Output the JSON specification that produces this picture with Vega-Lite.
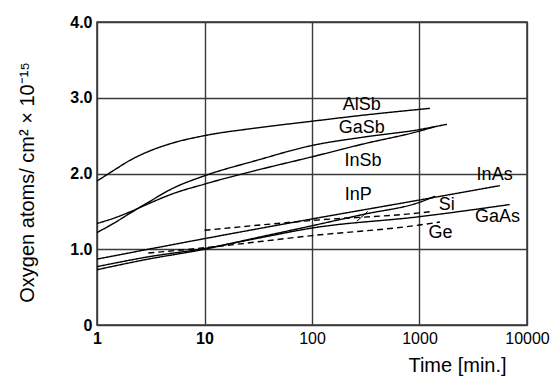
{
  "$schema": "https://vega.github.io/schema/vega-lite/v6.json",
  "width": 430,
  "height": 303,
  "autosize": "none",
  "padding": {"left": 97, "top": 22, "right": 27, "bottom": 52},
  "background": "white",
  "config": {
    "font": "Liberation Sans",
    "view": {"stroke": "#333333", "strokeWidth": 1.5}
  },
  "datasets": {
    "curves": [
      {"material": "AlSb", "t": 1, "o": 1.90},
      {"material": "AlSb", "t": 1.5, "o": 2.06},
      {"material": "AlSb", "t": 2, "o": 2.17},
      {"material": "AlSb", "t": 3, "o": 2.29},
      {"material": "AlSb", "t": 5, "o": 2.40},
      {"material": "AlSb", "t": 10, "o": 2.50},
      {"material": "AlSb", "t": 30, "o": 2.60},
      {"material": "AlSb", "t": 100, "o": 2.69},
      {"material": "AlSb", "t": 300, "o": 2.77},
      {"material": "AlSb", "t": 1250, "o": 2.86},
      {"material": "GaSb", "t": 1, "o": 1.22},
      {"material": "GaSb", "t": 1.5, "o": 1.36},
      {"material": "GaSb", "t": 2, "o": 1.47},
      {"material": "GaSb", "t": 3, "o": 1.62},
      {"material": "GaSb", "t": 5, "o": 1.80},
      {"material": "GaSb", "t": 10, "o": 1.97},
      {"material": "GaSb", "t": 30, "o": 2.17},
      {"material": "GaSb", "t": 100, "o": 2.37},
      {"material": "GaSb", "t": 300, "o": 2.48},
      {"material": "GaSb", "t": 1000, "o": 2.58},
      {"material": "GaSb", "t": 1800, "o": 2.65},
      {"material": "InSb", "t": 1, "o": 1.34},
      {"material": "InSb", "t": 1.5, "o": 1.42},
      {"material": "InSb", "t": 2, "o": 1.49},
      {"material": "InSb", "t": 3, "o": 1.60},
      {"material": "InSb", "t": 5, "o": 1.73},
      {"material": "InSb", "t": 10, "o": 1.86},
      {"material": "InSb", "t": 30, "o": 2.04},
      {"material": "InSb", "t": 100, "o": 2.22},
      {"material": "InSb", "t": 300, "o": 2.39},
      {"material": "InSb", "t": 1000, "o": 2.56},
      {"material": "InSb", "t": 1400, "o": 2.62},
      {"material": "InAs", "t": 1, "o": 0.87},
      {"material": "InAs", "t": 10, "o": 1.14},
      {"material": "InAs", "t": 100, "o": 1.40},
      {"material": "InAs", "t": 1000, "o": 1.65},
      {"material": "InAs", "t": 5600, "o": 1.84},
      {"material": "InP", "t": 1, "o": 0.73},
      {"material": "InP", "t": 3, "o": 0.87},
      {"material": "InP", "t": 10, "o": 1.00},
      {"material": "InP", "t": 30, "o": 1.15},
      {"material": "InP", "t": 100, "o": 1.31},
      {"material": "InP", "t": 300, "o": 1.46},
      {"material": "InP", "t": 1000, "o": 1.62},
      {"material": "InP", "t": 1400, "o": 1.70},
      {"material": "GaAs", "t": 1, "o": 0.77},
      {"material": "GaAs", "t": 3, "o": 0.90},
      {"material": "GaAs", "t": 10, "o": 1.01},
      {"material": "GaAs", "t": 30, "o": 1.14},
      {"material": "GaAs", "t": 100, "o": 1.28},
      {"material": "GaAs", "t": 1000, "o": 1.43},
      {"material": "GaAs", "t": 6900, "o": 1.59},
      {"material": "Si", "t": 10, "o": 1.25},
      {"material": "Si", "t": 100, "o": 1.38},
      {"material": "Si", "t": 1000, "o": 1.48},
      {"material": "Si", "t": 1340, "o": 1.50},
      {"material": "Ge", "t": 3, "o": 0.95},
      {"material": "Ge", "t": 10, "o": 1.02},
      {"material": "Ge", "t": 100, "o": 1.18},
      {"material": "Ge", "t": 1000, "o": 1.32},
      {"material": "Ge", "t": 1550, "o": 1.36}
    ],
    "labels": [
      {"name": "AlSb", "t": 290, "o": 2.90},
      {"name": "GaSb", "t": 290, "o": 2.60},
      {"name": "InSb", "t": 298, "o": 2.16},
      {"name": "InAs", "t": 5000, "o": 1.975},
      {"name": "InP", "t": 270, "o": 1.71},
      {"name": "Si", "t": 1790, "o": 1.59},
      {"name": "GaAs", "t": 5320, "o": 1.42},
      {"name": "Ge", "t": 1570, "o": 1.22}
    ],
    "leaders": [
      {"t": 331, "o": 1.50, "t2": 261, "o2": 1.37}
    ]
  },
  "encoding": {
    "x": {
      "field": "t",
      "type": "quantitative",
      "scale": {"type": "log", "domain": [1, 10000]},
      "axis": {
        "values": [1, 10, 100, 1000, 10000],
        "format": "d",
        "labelFontSize": 16,
        "labelColor": "#000000",
        "labelFontWeight": {"condition": {"test": "datum.value <= 10", "value": "bold"}, "value": "normal"},
        "labelPadding": 5,
        "labelFlush": false,
        "ticks": false,
        "domain": false,
        "grid": true,
        "gridColor": "#3a3a3a",
        "gridWidth": 1.4,
        "gridOpacity": 1,
        "title": "Time [min.]",
        "titleFontSize": 20,
        "titleFontWeight": "normal",
        "titleColor": "#000000",
        "titleX": 360,
        "titleY": 46,
        "titleAlign": "center",
        "titleBaseline": "alphabetic"
      }
    },
    "y": {
      "field": "o",
      "type": "quantitative",
      "scale": {"domain": [0, 4], "nice": false},
      "axis": {
        "values": [0, 1, 2, 3, 4],
        "labelExpr": "datum.value == 0 ? '0' : format(datum.value, '.1f')",
        "labelFontSize": 16,
        "labelFontWeight": "bold",
        "labelColor": "#000000",
        "labelPadding": 5,
        "labelFlush": false,
        "ticks": false,
        "domain": false,
        "grid": true,
        "gridColor": "#3a3a3a",
        "gridWidth": 1.4,
        "gridOpacity": 1,
        "title": "Oxygen atoms/ cm² × 10⁻¹⁵",
        "titleFontSize": 20,
        "titleFontWeight": "normal",
        "titleColor": "#000000",
        "titleAngle": -90,
        "titleX": -70,
        "titleY": 160,
        "titleAlign": "center",
        "titleBaseline": "middle"
      }
    }
  },
  "layer": [
    {
      "data": {"name": "curves"},
      "mark": {"type": "line", "color": "#000000", "strokeWidth": 1.4, "interpolate": "monotone"},
      "encoding": {
        "detail": {"field": "material", "type": "nominal"},
        "strokeDash": {
          "field": "material",
          "type": "nominal",
          "scale": {
            "domain": ["AlSb", "GaSb", "InSb", "InAs", "InP", "GaAs", "Si", "Ge"],
            "range": [[1, 0], [1, 0], [1, 0], [1, 0], [1, 0], [1, 0], [6, 4], [6, 4]]
          },
          "legend": null
        }
      }
    },
    {
      "data": {"name": "leaders"},
      "mark": {"type": "rule", "color": "#000000", "strokeWidth": 1},
      "encoding": {
        "x2": {"field": "t2"},
        "y2": {"field": "o2"}
      }
    },
    {
      "data": {"name": "labels"},
      "mark": {"type": "text", "fontSize": 18, "color": "#000000", "align": "center", "baseline": "middle"},
      "encoding": {
        "text": {"field": "name", "type": "nominal"}
      }
    }
  ]
}
